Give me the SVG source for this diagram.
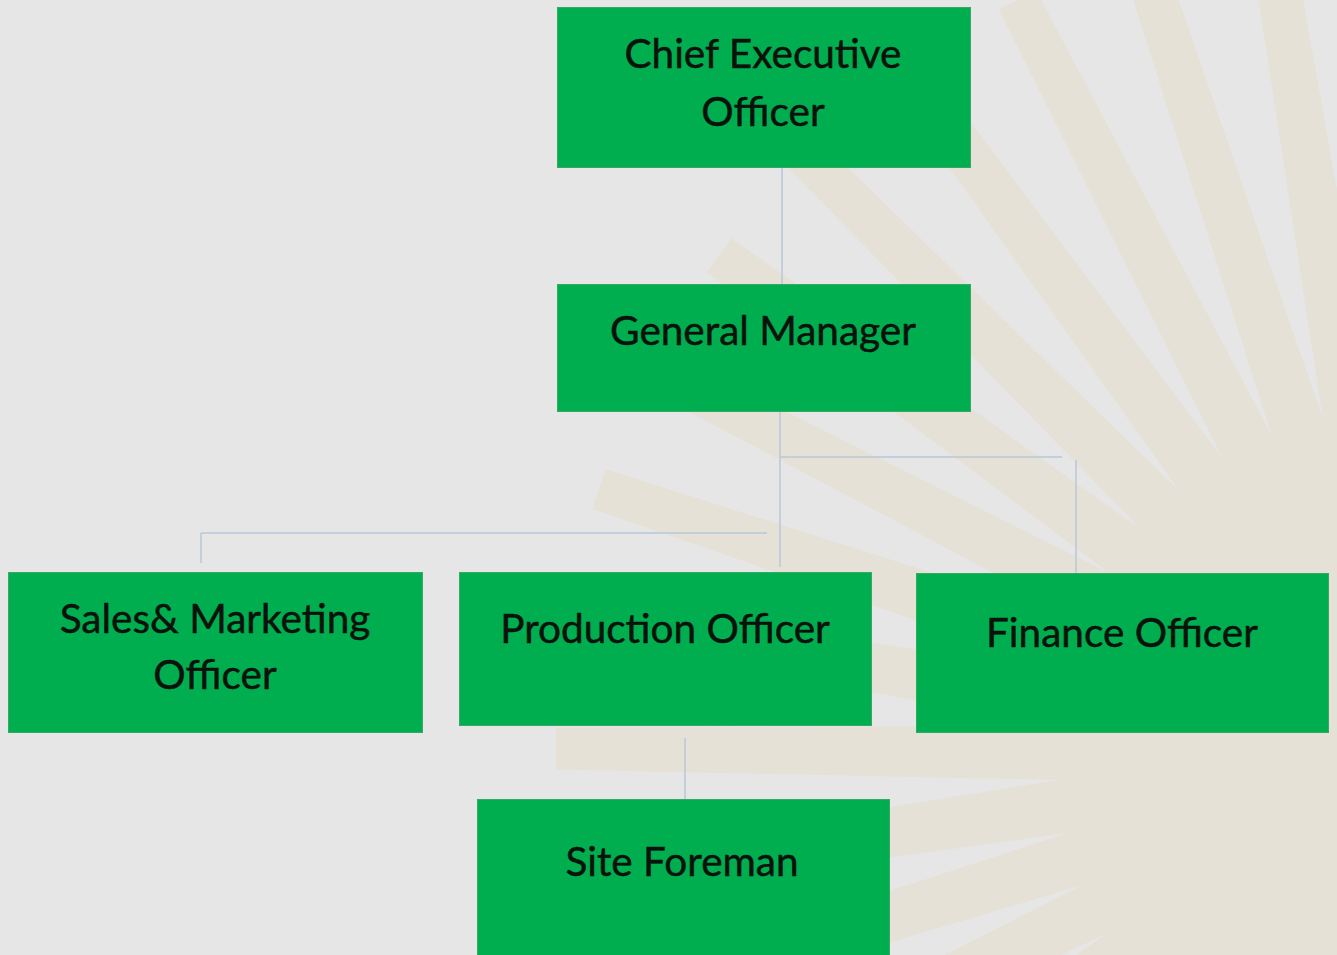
<svg xmlns="http://www.w3.org/2000/svg" width="1337" height="955" viewBox="0 0 1337 955">
<style>
.bg{fill:#e6e6e6}
.ray{fill:#e6e1d6}
.box{fill:#00ae50;stroke:#35a964;stroke-width:1}
.lbl{font-family:Lato,"Liberation Sans",sans-serif;font-size:40.5px;fill:#0b120c;stroke:#0b120c;stroke-width:0.5;text-anchor:middle}
.conn line{stroke:#b7c7d8;stroke-width:1.5;fill:none}
</style>
<defs>
<polygon id="ray" points="0,-31.2 -850,-21 -850,21 0,31.2"/>
</defs>
<rect class="bg" x="0" y="0" width="1337" height="955"/>
<g id="background-rays" class="ray">
<use href="#ray" transform="translate(1406 756) rotate(-88.5)"/>
<use href="#ray" transform="translate(1406 756) rotate(-79.6)"/>
<use href="#ray" transform="translate(1406 756) rotate(-70.7)"/>
<use href="#ray" transform="translate(1406 756) rotate(-61.8)"/>
<use href="#ray" transform="translate(1406 756) rotate(-52.9)"/>
<use href="#ray" transform="translate(1406 756) rotate(-44)"/>
<use href="#ray" transform="translate(1406 756) rotate(-35.1)"/>
<use href="#ray" transform="translate(1406 756) rotate(-26.2)"/>
<use href="#ray" transform="translate(1406 756) rotate(-17.3)"/>
<use href="#ray" transform="translate(1406 756) rotate(-8.4)"/>
<use href="#ray" transform="translate(1406 756) rotate(0.5)"/>
<use href="#ray" transform="translate(1406 756) rotate(9.4)"/>
<use href="#ray" transform="translate(1406 756) rotate(18.3)"/>
<use href="#ray" transform="translate(1406 756) rotate(27.2)"/>
<use href="#ray" transform="translate(1406 756) rotate(36.1)"/>
<use href="#ray" transform="translate(1406 756) rotate(45)"/>
<use href="#ray" transform="translate(1406 756) rotate(53.9)"/>
<use href="#ray" transform="translate(1406 756) rotate(62.8)"/>
<use href="#ray" transform="translate(1406 756) rotate(71.7)"/>
<use href="#ray" transform="translate(1406 756) rotate(80.6)"/>
<use href="#ray" transform="translate(1406 756) rotate(89.5)"/>
<use href="#ray" transform="translate(1406 756) rotate(98.4)"/>
</g>
<g id="connectors" class="conn">
<line x1="782" y1="167" x2="782" y2="284"/>
<line x1="780" y1="411" x2="780" y2="567"/>
<line x1="780" y1="457" x2="1062" y2="457"/>
<line x1="1076" y1="460" x2="1076" y2="574"/>
<line x1="201" y1="533" x2="767" y2="533"/>
<line x1="201" y1="533" x2="201" y2="563"/>
<line x1="685" y1="738" x2="685" y2="799"/>
</g>
<g id="node-ceo">
<rect class="box" x="557.5" y="7.5" width="413" height="160"/>
<text class="lbl" x="763" y="68">Chief Executive</text>
<text class="lbl" x="763" y="126">Officer</text>
</g>
<g id="node-gm">
<rect class="box" x="557.5" y="284.5" width="413" height="127"/>
<text class="lbl" x="763" y="345">General Manager</text>
</g>
<g id="node-sales">
<rect class="box" x="8.5" y="572.5" width="414" height="160"/>
<text class="lbl" x="215" y="633">Sales&amp; Marketing</text>
<text class="lbl" x="215" y="689">Officer</text>
</g>
<g id="node-production">
<rect class="box" x="459.5" y="572.5" width="412" height="153"/>
<text class="lbl" x="665" y="643">Production Officer</text>
</g>
<g id="node-finance">
<rect class="box" x="916.5" y="573.5" width="412" height="159"/>
<text class="lbl" x="1122" y="647">Finance Officer</text>
</g>
<g id="node-foreman">
<rect class="box" x="477.5" y="799.5" width="412" height="165"/>
<text class="lbl" x="682" y="876">Site Foreman</text>
</g>
</svg>
